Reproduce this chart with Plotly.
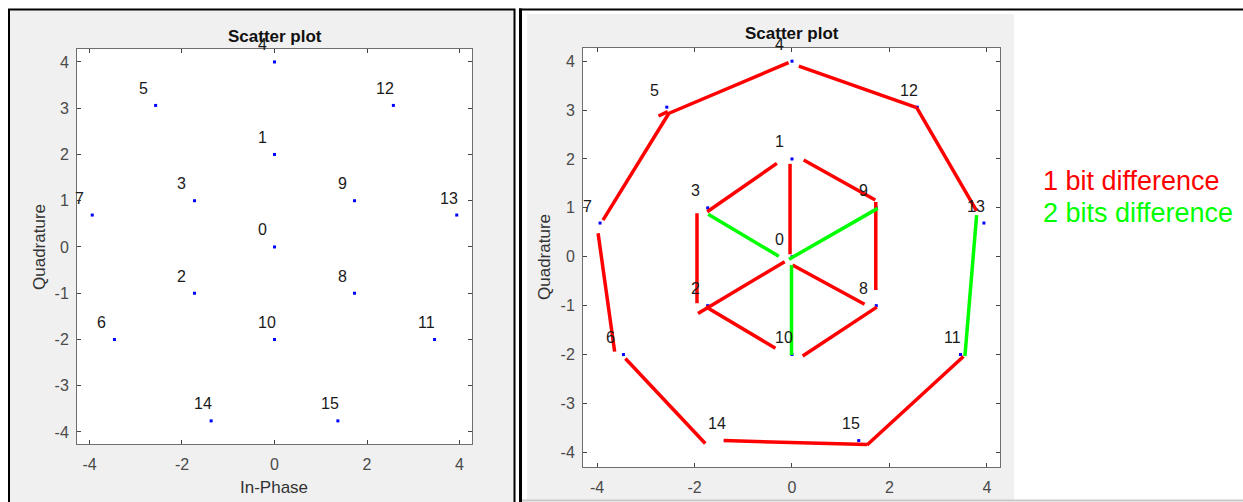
import plotly.graph_objects as go

# constellation points
symbols = list(range(16))
in_phase = [0, 0, -1.73, -1.73, 0, -2.57, -3.46, -3.94,
            1.73, 1.73, 0, 3.46, 2.57, 3.94, -1.37, 1.37]
quadrature = [0, 2, -1, 1, 4, 3.06, -2, 0.69,
              -1, 1, -2, -2, 3.06, 0.69, -3.76, -3.76]

# hand drawn segments on the right panel: x0, y0, x1, y1
red_x0 = [-2.56, 0.14, 2.56, 3.52, 1.54, -1.78, -3.64, -3.88,
          -1.74, -0.04, 0.24, 1.72, -1.95, -0.15, 0.01, -1.77, 0.22, -2.74]
red_y0 = [2.92, 3.90, 3.05, -2.04, -3.84, -3.82, -1.94, 0.75,
          0.92, 1.90, 1.98, 1.12, 0.89, -0.10, -0.17, -1.02, -2.03, 2.88]
red_x1 = [-0.07, 2.56, 3.79, 1.54, -1.40, -3.42, -3.98, -2.53,
          -0.31, -0.04, 1.71, 1.72, -1.95, -1.93, 1.49, -0.34, 1.74, -2.55]
red_y1 = [3.97, 3.05, 0.94, -3.85, -3.76, -2.08, 0.48, 2.93,
          1.91, 0.05, 1.16, -0.68, -0.95, -1.16, -0.97, -1.87, -1.03, 2.97]

green_x0 = [3.79, 1.76, -1.72, -0.01]
green_y0 = [0.85, 0.99, 0.87, -0.17]
green_x1 = [3.55, -0.06, -0.27, -0.01]
green_y1 = [-2.03, -0.05, 0.01, -2.01]

x_ticks = [-4, -2, 0, 2, 4]
y_ticks = [-4, -3, -2, -1, 0, 1, 2, 3, 4]

legend_text = ["1 bit difference", "2 bits difference"]
legend_colors = ["#ff0000", "#00ff00"]

W, H = 1243, 502
FONT = "Liberation Sans, Arial, sans-serif"


def fx(p):
    return p / W


def fy(p):
    return 1 - p / H


def seg_xy(x0, y0, x1, y1):
    xs, ys = [], []
    for a, b, c, d in zip(x0, y0, x1, y1):
        xs += [a, c, None]
        ys += [b, d, None]
    return xs, ys


fig = go.Figure()

for ax in ["", "2"]:
    fig.add_trace(go.Scatter(
        x=in_phase, y=quadrature, mode="markers",
        marker=dict(color="#0000ff", size=3, symbol="square"),
        xaxis="x" + ax, yaxis="y" + ax, hoverinfo="skip"))

rx, ry = seg_xy(red_x0, red_y0, red_x1, red_y1)
gx, gy = seg_xy(green_x0, green_y0, green_x1, green_y1)
fig.add_trace(go.Scatter(x=rx, y=ry, mode="lines", line=dict(color="#ff0000", width=3.5),
                         xaxis="x2", yaxis="y2", hoverinfo="skip"))
fig.add_trace(go.Scatter(x=gx, y=gy, mode="lines", line=dict(color="#00ff00", width=3.5),
                         xaxis="x2", yaxis="y2", hoverinfo="skip"))

annotations = []
for ax in ["", "2"]:
    for s, x, y in zip(symbols, in_phase, quadrature):
        annotations.append(dict(
            x=x, y=y, xref="x" + ax, yref="y" + ax, text=str(s), showarrow=False,
            xanchor="left", yanchor="middle", xshift=-19, yshift=17,
            font=dict(family=FONT, size=16, color="#1a1a1a")))

# titles and axis labels
for cx, cy in [(275, 36), (792, 34)]:
    annotations.append(dict(x=fx(cx), y=fy(cy), xref="paper", yref="paper",
                            text="<b>Scatter plot</b>", showarrow=False,
                            xanchor="center", yanchor="middle",
                            font=dict(family=FONT, size=17, color="#111111")))
annotations.append(dict(x=fx(274), y=fy(487), xref="paper", yref="paper", text="In-Phase",
                        showarrow=False, xanchor="center", yanchor="middle",
                        font=dict(family=FONT, size=17, color="#333333")))
for cx, cy in [(39, 247), (544, 257)]:
    annotations.append(dict(x=fx(cx), y=fy(cy), xref="paper", yref="paper", text="Quadrature",
                            showarrow=False, textangle=-90, xanchor="center", yanchor="middle",
                            font=dict(family=FONT, size=17, color="#333333")))

for i, (t, c) in enumerate(zip(legend_text, legend_colors)):
    annotations.append(dict(x=fx(1041), y=fy(181 + 32 * i), xref="paper", yref="paper", text=t,
                            showarrow=False, xanchor="left", yanchor="middle",
                            font=dict(family=FONT, size=27, color=c)))

shapes = [
    # gray figure backgrounds
    dict(type="rect", xref="paper", yref="paper", x0=fx(10), x1=fx(513.5), y0=fy(10), y1=fy(503),
         fillcolor="#f0f0f0", line=dict(width=0), layer="below"),
    dict(type="rect", xref="paper", yref="paper", x0=fx(527), x1=fx(1014), y0=fy(14), y1=fy(500),
         fillcolor="#f0f0f0", line=dict(width=0), layer="below"),
    # white plot areas
    dict(type="rect", xref="paper", yref="paper", x0=fx(77), x1=fx(472), y0=fy(49), y1=fy(444),
         fillcolor="white", line=dict(width=0), layer="below"),
    dict(type="rect", xref="paper", yref="paper", x0=fx(583), x1=fx(1000), y0=fy(48), y1=fy(467),
         fillcolor="white", line=dict(width=0), layer="below"),
    # panel borders
    dict(type="rect", xref="paper", yref="paper", x0=fx(9), x1=fx(514.5), y0=fy(9.5), y1=fy(506),
         line=dict(color="black", width=2)),
    dict(type="line", xref="paper", yref="paper", x0=fx(520.5), x1=fx(520.5), y0=fy(8.5), y1=fy(503),
         line=dict(color="black", width=3)),
    dict(type="line", xref="paper", yref="paper", x0=fx(519), x1=fx(1243), y0=fy(9.5), y1=fy(9.5),
         line=dict(color="black", width=2)),
    dict(type="line", xref="paper", yref="paper", x0=fx(522), x1=fx(1243), y0=fy(500.5), y1=fy(500.5),
         line=dict(color="#c8c8c8", width=2)),
]

axis_style = dict(showgrid=False, zeroline=False, showline=True, linecolor="#6e6e6e", linewidth=1,
                  mirror="ticks", ticks="inside", ticklen=4, tickcolor="#444444",
                  tickfont=dict(family=FONT, size=16, color="#4a4a4a"), fixedrange=True)
x_style = dict(tickvals=x_ticks, ticktext=[str(v) for v in x_ticks], ticklabelstandoff=6)
y_style = dict(tickvals=y_ticks, ticktext=[str(v) for v in y_ticks], ticklabelstandoff=4)

fig.update_layout(
    width=W, height=H, margin=dict(l=0, r=0, t=0, b=0),
    paper_bgcolor="white", plot_bgcolor="rgba(0,0,0,0)", showlegend=False,
    xaxis=dict(domain=[fx(77), fx(472)], range=[-4.27, 4.27], anchor="y", **x_style, **axis_style),
    yaxis=dict(domain=[fy(444), fy(49)], range=[-4.26, 4.28], anchor="x", **y_style, **axis_style),
    xaxis2=dict(domain=[fx(583), fx(1000)], range=[-4.29, 4.27], anchor="y2", **x_style, **axis_style),
    yaxis2=dict(domain=[fy(467), fy(48)], range=[-4.3, 4.27], anchor="x2", **y_style, **axis_style),
    shapes=shapes, annotations=annotations,
)

fig.write_html("out.html", config={"displayModeBar": False},
               post_script="document.body.style.margin='0';")
